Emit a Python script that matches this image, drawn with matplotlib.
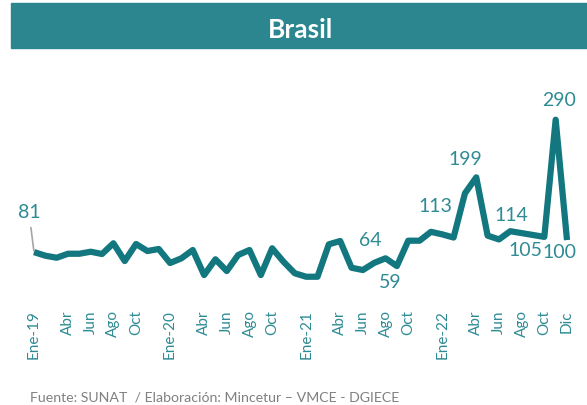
import numpy as np
import matplotlib.pyplot as plt
from matplotlib.patches import Rectangle

plt.rcParams['font.family'] = ['Lato', 'DejaVu Sans']

# monthly values, Ene-2019 .. Dic-2022
values = [81, 75.3, 72.1, 78.4, 78.4, 81.6, 78, 94.9, 66.9, 93.8, 82.7, 85.9,
          63.8, 71.2, 84.3, 44.8, 69.6, 51.1, 76.4, 84.3, 44.8, 87, 65.8, 47.5,
          42.1, 42.1, 93.3, 98.5, 56.3, 52.7, 64, 71.2, 59, 99, 99, 113,
          109, 104, 173.8, 199, 107, 101, 114, 111, 108, 105, 290, 100]

tick_pos = [0, 3, 5, 7, 9, 12, 15, 17, 19, 21, 24, 27, 29, 31, 33, 36, 39, 41, 43, 45, 47]
tick_labels = ["Ene-19", "Abr", "Jun", "Ago", "Oct",
               "Ene-20", "Abr", "Jun", "Ago", "Oct",
               "Ene-21", "Abr", "Jun", "Ago", "Oct",
               "Ene-22", "Abr", "Jun", "Ago", "Oct", "Dic"]

# labelled points (index) and label offsets in pixels
label_idx = [0, 30, 32, 35, 39, 42, 45, 46, 47]
label_off = [(-5, 40), (-4, 22), (-7, -16), (4, 25), (-11, 18), (1, 16), (-19, -14), (3, 19), (-8, -12)]

line_col = "#12777F"
text_col = "#2E8B94"
banner_col = "#2B8690"

fig = plt.figure(figsize=(5.87, 4.05), dpi=100)
W, H = 587, 405

# title banner
fig.patches.append(Rectangle((11 / W, 1 - 48 / H), 576 / W, 45 / H,
                             transform=fig.transFigure, color=banner_col, zorder=0))
fig.text(300 / W, 1 - 30 / H, "Brasil", color="white", fontsize=19, fontweight="bold",
         ha="center", va="center")

ax = fig.add_axes([34 / W, 1 - 303.4 / H, 533 / W, 190 / H])
x = np.arange(len(values))
ax.plot(x, values, color=line_col, lw=4.5, solid_joinstyle="round",
        solid_capstyle="butt", clip_on=False)
ax.set_xlim(0, 47)
ax.set_ylim(0, 300)

for i, (dx, dy) in zip(label_idx, label_off):
    v = values[i]
    props = None
    if i == 0:
        props = dict(arrowstyle="-", color="#A6A6A6", lw=1.2, shrinkA=3, shrinkB=1)
    ax.annotate(f"{v:.0f}", (i, v), xytext=(dx, dy), textcoords="offset pixels",
                ha="center", va="center", fontsize=14, color=text_col,
                arrowprops=props, annotation_clip=False)

ax.set_xticks(tick_pos)
ax.set_xticklabels(tick_labels, rotation=90, fontsize=11, color=text_col)
ax.tick_params(axis="x", length=0, pad=5)
ax.set_yticks([])
for s in ax.spines.values():
    s.set_visible(False)

fig.text(30 / W, 8 / H, "Fuente: SUNAT  / Elaboración: Mincetur – VMCE - DGIECE",
         color="#808080", fontsize=10.2, ha="left", va="center")

fig.savefig("out.png", dpi=100)
